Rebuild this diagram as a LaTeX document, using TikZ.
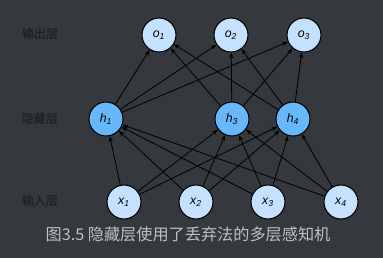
\documentclass[tikz,border=0pt]{standalone}
\usepackage{fontspec}
\setmainfont{Liberation Sans}
\newfontfamily\cjk{Noto Sans CJK SC}
\usetikzlibrary{arrows.meta}
\definecolor{fond}{HTML}{35393D}
\definecolor{clair}{HTML}{C4E2FF}
\definecolor{cache}{HTML}{66B8FA}
\definecolor{legende}{HTML}{B9C1C9}
\tikzset{
  neurone/.style={circle, draw=black, line width=0.9pt, minimum size=29pt, inner sep=0pt, fill=clair, font=\fontsize{10.5}{12}\selectfont},
  couche/.style={font=\cjk\fontsize{10.3}{12}\selectfont, text=black!90},
  fleche/.style={-{Stealth[length=5pt,width=3.6pt]}, line width=0.7pt, black}
}

\begin{document}
\begin{tikzpicture}[x=0.03cm, y=-0.03cm]
  % Le fond sombre
  \fill[fond] (0,0) rectangle (383,258);
  \useasboundingbox (0,0) rectangle (383,258);

  % Les noms des couches
  \node[couche] (lo) at (40,34) {输出层};
  \node[couche] (lh) at (40,119) {隐藏层};
  \node[couche] (lx) at (40,201) {输入层};

  % Couche de sortie
  \foreach \x/\n in {159/1,231/2,304/3} {
    \node[neurone] (o\n) at (\x,35) {\textit{o\textsubscript{\n}}};
  }

  % Couche cachée (h2 est abandonné)
  \foreach \x/\n in {106/1,232/3,293/4} {
    \node[neurone, fill=cache] (h\n) at (\x,119) {\textit{h\textsubscript{\n}}};
  }

  % Couche d'entrée
  \foreach \x/\n in {124/1,196/2,268/3,341/4} {
    \node[neurone] (x\n) at (\x,202) {\textit{x\textsubscript{\n}}};
  }

  % Les connexions entrée -> cachée
  \foreach \i in {1,2,3,4} {
    \foreach \j in {1,3,4} {
      \draw[fleche] (x\i) -- (h\j);
    }
  }

  % Les connexions cachée -> sortie
  \foreach \j in {1,3,4} {
    \foreach \k in {1,2,3} {
      \draw[fleche] (h\j) -- (o\k);
    }
  }

  % La légende
  \node[font=\cjk\fontsize{13.8}{16}\selectfont, text=legende] (titre) at (188,234) {图3.5 隐藏层使用了丢弃法的多层感知机};
\end{tikzpicture}
\end{document}
